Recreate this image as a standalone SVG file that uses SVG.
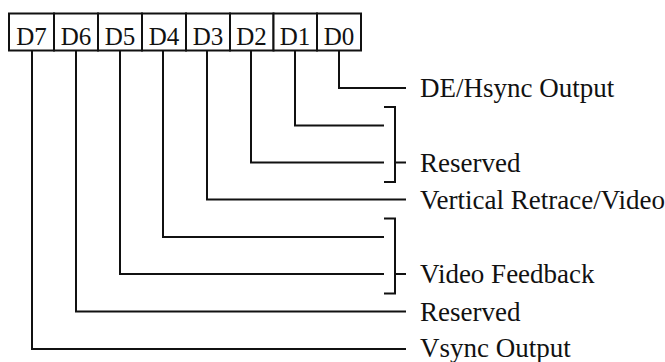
<svg xmlns="http://www.w3.org/2000/svg" width="665" height="362" viewBox="0 0 665 362">
<style>
.cell{fill:#fff;stroke:#111;stroke-width:2}
.bit{font-family:"Liberation Serif",serif;font-size:25px;fill:#111;text-anchor:middle}
.lbl{font-family:"Liberation Serif",serif;font-size:27px;fill:#111}
.wire{fill:none;stroke:#111;stroke-width:2;stroke-linejoin:miter;stroke-linecap:square}
</style>
<rect width="665" height="362" fill="#fff"/>
<g id="register">
<g id="bit-d7"><rect class="cell" x="9" y="13.5" width="45" height="37"/><text class="bit" x="31.5" y="44.5">D7</text></g>
<g id="bit-d6"><rect class="cell" x="54" y="13.5" width="44" height="37"/><text class="bit" x="76" y="44.5">D6</text></g>
<g id="bit-d5"><rect class="cell" x="98" y="13.5" width="44" height="37"/><text class="bit" x="120" y="44.5">D5</text></g>
<g id="bit-d4"><rect class="cell" x="142" y="13.5" width="44" height="37"/><text class="bit" x="164" y="44.5">D4</text></g>
<g id="bit-d3"><rect class="cell" x="186" y="13.5" width="44" height="37"/><text class="bit" x="208" y="44.5">D3</text></g>
<g id="bit-d2"><rect class="cell" x="230" y="13.5" width="43.5" height="37"/><text class="bit" x="251.5" y="44.5">D2</text></g>
<g id="bit-d1"><rect class="cell" x="273.5" y="13.5" width="43.5" height="37"/><text class="bit" x="295" y="44.5">D1</text></g>
<g id="bit-d0"><rect class="cell" x="317" y="13.5" width="44" height="37"/><text class="bit" x="339" y="44.5">D0</text></g>
</g>
<g id="connectors">
<path class="wire" d="M339 51.5 V88 H405"/>
<path class="wire" d="M295 51.5 V125.5 H383"/>
<path class="wire" d="M251 51.5 V162.5 H383"/>
<path class="wire" d="M207 51.5 V199.5 H405"/>
<path class="wire" d="M163 51.5 V237 H383"/>
<path class="wire" d="M120 51.5 V274 H383"/>
<path class="wire" d="M76 51.5 V311.5 H405"/>
<path class="wire" d="M32 51.5 V349 H405"/>
<path class="wire" d="M385 107 H395 V182 H385 M395 162.5 H405"/>
<path class="wire" d="M385 218.5 H395 V293.5 H385 M395 274 H405"/>
</g>
<g id="label-de-hsync"><text class="lbl" x="420" y="96.5">DE/Hsync Output</text></g>
<g id="label-reserved-1"><text class="lbl" x="420" y="171.5">Reserved</text></g>
<g id="label-vertical-retrace"><text class="lbl" x="420" y="208.5">Vertical Retrace/Video</text></g>
<g id="label-video-feedback"><text class="lbl" x="420" y="283">Video Feedback</text></g>
<g id="label-reserved-2"><text class="lbl" x="420" y="320.5">Reserved</text></g>
<g id="label-vsync"><text class="lbl" x="420" y="357">Vsync Output</text></g>
</svg>
